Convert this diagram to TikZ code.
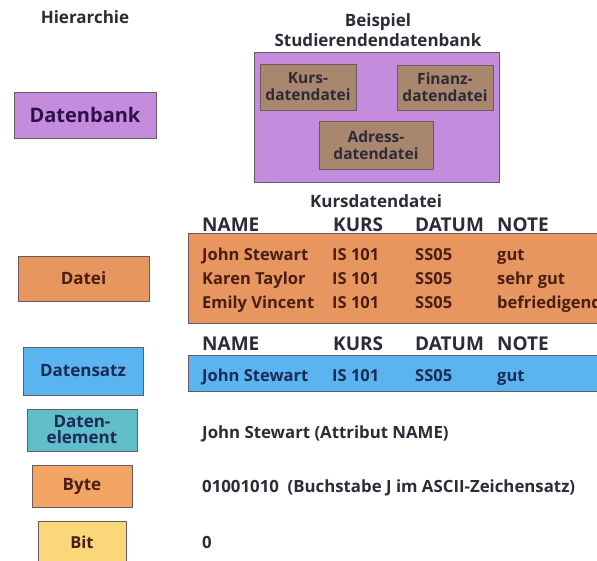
\documentclass[tikz,border=0pt]{standalone}
\usepackage{fontspec}
\setmainfont{Open Sans}
\definecolor{txt}{HTML}{2E2A38}
\definecolor{brtxt}{HTML}{4A1E14}
\definecolor{bltxt}{HTML}{1C2A55}
\definecolor{pptxt}{HTML}{2A1248}
\definecolor{purp}{HTML}{C58BDD}
\definecolor{brn}{HTML}{A8876E}
\definecolor{orng}{HTML}{E8965F}
\definecolor{blu}{HTML}{5AB4F0}
\definecolor{teal1}{HTML}{5FBEC8}
\definecolor{byteo}{HTML}{F3A564}
\definecolor{bity}{HTML}{FAD778}
\definecolor{edge}{HTML}{6A5A60}
\tikzset{
  lvl/.style={draw=edge, line width=0.8pt, font=\fontsize{17}{17}\selectfont\bfseries, text=txt, align=center, inner sep=1pt},
  ttl/.style={font=\fontsize{17}{20}\selectfont\bfseries, text=txt, align=center},
  cell/.style={font=\fontsize{16.5}{17}\selectfont\bfseries, text=brtxt, anchor=base west, inner sep=0pt},
  hd/.style={font=\fontsize{19}{19}\selectfont\bfseries, text=txt, anchor=base west, inner sep=0pt},
  plain/.style={font=\fontsize{16.8}{17}\selectfont\bfseries, text=txt, anchor=base west, inner sep=0pt},
  sub/.style={font=\fontsize{15.5}{17}\selectfont\bfseries, text=txt},
}
\begin{document}
\begin{tikzpicture}[x=1pt,y=-1pt]
\useasboundingbox (0,0) rectangle (597,560);
% left column
\node[ttl] (hier) at (85,17) {Hierarchie};
\node[lvl, fill=purp, minimum width=142pt, minimum height=46pt, text=pptxt] (db) at (85,115) {\fontsize{20}{20}\selectfont Datenbank};
\node[lvl, fill=orng, minimum width=131pt, minimum height=45pt, text=brtxt] (datei) at (83.5,278.5) {Datei};
\node[lvl, fill=blu, minimum width=120pt, minimum height=48pt, text=bltxt] (dsatz) at (83,371) {Datensatz};
\node[lvl, fill=teal1, minimum width=110pt, minimum height=42pt, text=bltxt, font=\fontsize{17}{16}\selectfont\bfseries] (delem) at (82,430) {Daten-\\element};
\node[lvl, fill=byteo, minimum width=100pt, minimum height=42pt, text=brtxt] (byte) at (82,486) {Byte};
\node[lvl, fill=bity, minimum width=88pt, minimum height=42pt, text=brtxt] (bit) at (82,542) {\fontsize{16.5}{17}\selectfont Bit};
% example database
\node[ttl] (beisp) at (378,30) {Beispiel\\Studierendendatenbank};
\node[lvl, fill=purp, minimum width=245pt, minimum height=130pt] (sdb) at (376.5,117) {};
\node[lvl, fill=brn, minimum width=96pt, minimum height=46pt, sub] (kurs) at (308,87) {Kurs-\\datendatei};
\node[lvl, fill=brn, minimum width=96pt, minimum height=45pt, sub] (fin) at (445,87.5) {Finanz-\\datendatei};
\node[lvl, fill=brn, minimum width=114pt, minimum height=48pt, sub] (adr) at (376,145) {Adress-\\datendatei};
% Kursdatendatei
\node[ttl] (kdd) at (376,201) {Kursdatendatei};
\node[hd] (h1) at (202,231) {NAME};
\node[hd] (h2) at (333,231) {KURS};
\node[hd] (h3) at (415,231) {DATUM};
\node[hd] (h4) at (497,231) {NOTE};
\node[lvl, fill=orng, anchor=north west, minimum width=412pt, minimum height=90pt] (tab) at (188,233) {};
\node[cell] (r1a) at (202,260) {John Stewart};
\node[cell] (r1b) at (332,260) {IS 101};
\node[cell] (r1c) at (415,260) {SS05};
\node[cell] (r1d) at (497,260) {gut};
\node[cell] (r2a) at (202,284) {Karen Taylor};
\node[cell] (r2b) at (332,284) {IS 101};
\node[cell] (r2c) at (415,284) {SS05};
\node[cell] (r2d) at (497,284) {sehr gut};
\node[cell] (r3a) at (202,308) {Emily Vincent};
\node[cell] (r3b) at (332,308) {IS 101};
\node[cell] (r3c) at (415,308) {SS05};
\node[cell] (r3d) at (497,308) {befriedigend};
% Datensatz
\node[hd] (g1) at (202,350) {NAME};
\node[hd] (g2) at (333,350) {KURS};
\node[hd] (g3) at (415,350) {DATUM};
\node[hd] (g4) at (497,350) {NOTE};
\node[lvl, fill=blu, anchor=north west, minimum width=412pt, minimum height=36pt] (rec) at (188,355) {};
\node[cell, text=bltxt] (s1) at (202,381) {John Stewart};
\node[cell, text=bltxt] (s2) at (332,381) {IS 101};
\node[cell, text=bltxt] (s3) at (415,381) {SS05};
\node[cell, text=bltxt] (s4) at (497,381) {gut};
% remaining
\node[plain] (t1) at (202,438) {John Stewart (Attribut NAME)};
\node[plain] (t2) at (202,492) {01001010\ \ (Buchstabe J im ASCII-Zeichensatz)};
\node[plain] (t3) at (202,548) {0};
\end{tikzpicture}
\end{document}
